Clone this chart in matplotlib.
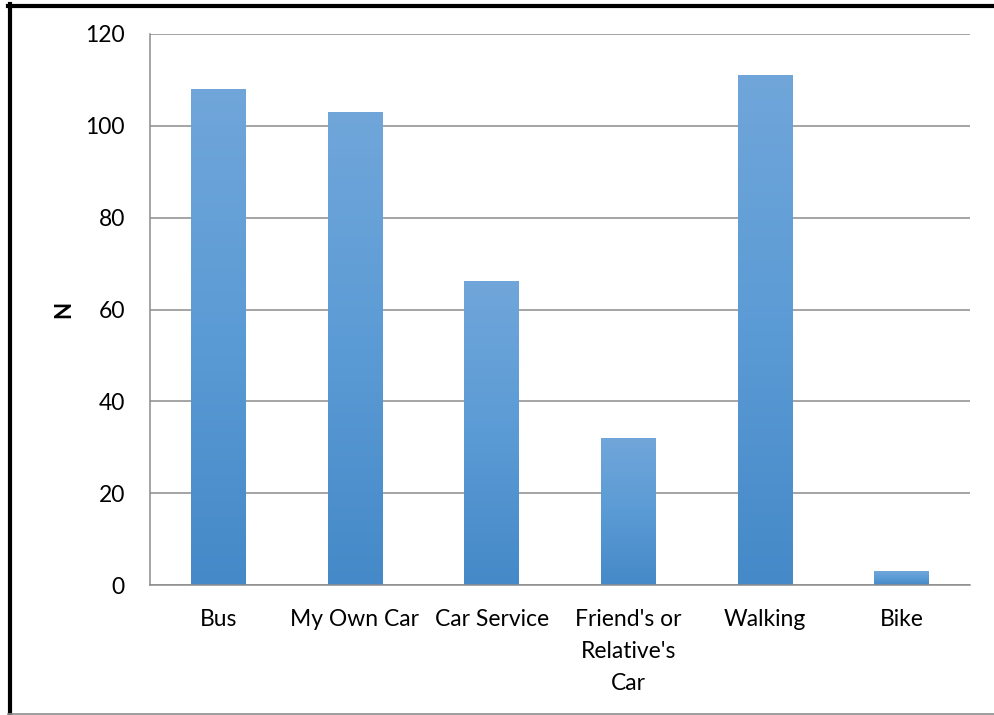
import numpy as np
import matplotlib
matplotlib.use("Agg")
import matplotlib.pyplot as plt
from matplotlib.colors import LinearSegmentedColormap
from matplotlib.lines import Line2D

categories = ["Bus", "My Own Car", "Car Service", "Friend's or\nRelative's\nCar", "Walking", "Bike"]
counts = [108, 103, 66, 32, 111, 3]
y_ticks = [0, 20, 40, 60, 80, 100, 120]

plt.rcParams["font.family"] = ["Lato", "DejaVu Sans"]

fig = plt.figure(figsize=(9.94, 7.15), dpi=100)
ax = fig.add_axes([150 / 994, 1 - 585 / 715, 820 / 994, 551 / 715])

# Excel-style vertical gradient: dark at the bottom, brighter middle, light top
grad_cmap = LinearSegmentedColormap.from_list("bar_grad", ["#4589c8", "#5b9bd5", "#70a6da"])
grad = np.linspace(0, 1, 256).reshape(-1, 1)

x = np.arange(len(categories))
bars = ax.bar(x, counts, width=0.4, color="none", zorder=2)
for b in bars:
    x0, y0, w, h = b.get_x(), b.get_y(), b.get_width(), b.get_height()
    ax.imshow(grad, cmap=grad_cmap, origin="lower", aspect="auto",
              extent=[x0, x0 + w, y0, y0 + h], zorder=2, interpolation="bilinear")

ax.set_xlim(-0.5, len(categories) - 0.5)
ax.set_ylim(0, 120)
ax.set_yticks(y_ticks)
ax.set_xticks(x)
ax.set_xticklabels(categories, linespacing=1.65)

ax.grid(axis="y", color="#8c8c8c", linewidth=1.1, zorder=0)
ax.set_axisbelow(True)
for side in ["top", "right"]:
    ax.spines[side].set_visible(False)
for side in ["left", "bottom"]:
    ax.spines[side].set_color("#8c8c8c")
    ax.spines[side].set_linewidth(1.1)

ax.tick_params(axis="y", length=0, pad=18, labelsize=16.5)
ax.tick_params(axis="x", length=0, pad=17, labelsize=16.5)
ax.set_ylabel("N", fontsize=16, fontweight="bold", labelpad=8)

# frame around the picture
fig.add_artist(Line2D([8 / 994, 1], [1 - 5.5 / 715, 1 - 5.5 / 715], color="black", linewidth=3))
fig.add_artist(Line2D([9.5 / 994, 9.5 / 994], [0, 1 - 4 / 715], color="black", linewidth=3))
fig.add_artist(Line2D([8 / 994, 1], [1 / 715, 1 / 715], color="#8c8c8c", linewidth=1.2))

fig.savefig("out.png", dpi=100)
